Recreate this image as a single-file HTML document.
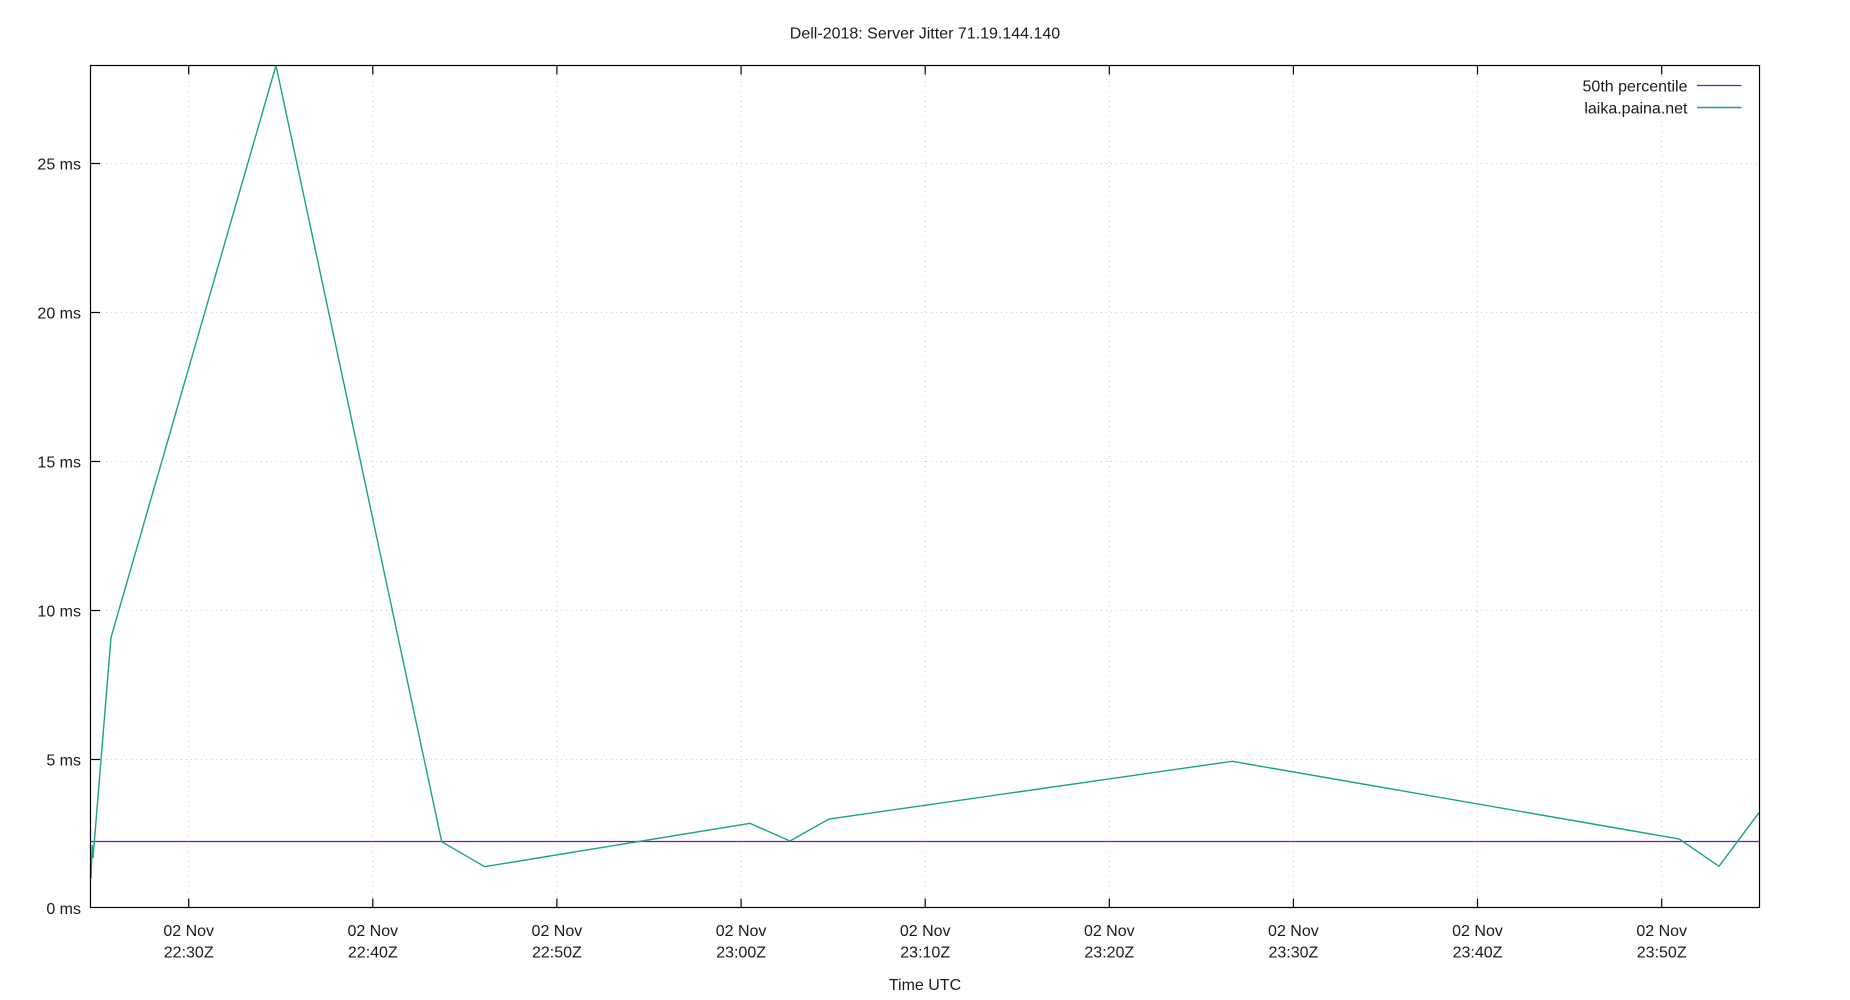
<!DOCTYPE html>
<html>
<head>
<meta charset="utf-8">
<style>
  html, body { margin: 0; padding: 0; background: #ffffff; }
  svg { display: block; }
  text { font-family: "Liberation Sans", "DejaVu Sans", sans-serif; font-size: 16px; fill: #1a1a1a; }
</style>
</head>
<body>
<svg width="1850" height="1000" viewBox="0 0 1850 1000" xmlns="http://www.w3.org/2000/svg">
  <rect x="0" y="0" width="1850" height="1000" fill="#ffffff"/>

  <!-- grid -->
  <g stroke="#cccccc" stroke-width="1" stroke-dasharray="1,4" fill="none">
    <line x1="91" y1="759.5" x2="1759" y2="759.5"/>
    <line x1="91" y1="610.5" x2="1759" y2="610.5"/>
    <line x1="91" y1="461.5" x2="1759" y2="461.5"/>
    <line x1="91" y1="312.5" x2="1759" y2="312.5"/>
    <line x1="91" y1="163.5" x2="1759" y2="163.5"/>
    <line x1="188.7" y1="66" x2="188.7" y2="907"/>
    <line x1="372.8" y1="66" x2="372.8" y2="907"/>
    <line x1="556.9" y1="66" x2="556.9" y2="907"/>
    <line x1="741.1" y1="66" x2="741.1" y2="907"/>
    <line x1="925.2" y1="66" x2="925.2" y2="907"/>
    <line x1="1109.3" y1="66" x2="1109.3" y2="907"/>
    <line x1="1293.4" y1="66" x2="1293.4" y2="907"/>
    <line x1="1477.5" y1="66" x2="1477.5" y2="907"/>
    <line x1="1661.7" y1="66" x2="1661.7" y2="907"/>
  </g>

  <!-- ticks -->
  <g stroke="#000" stroke-width="1.2" fill="none">
    <line x1="91" y1="759.5" x2="100" y2="759.5"/>
    <line x1="91" y1="610.5" x2="100" y2="610.5"/>
    <line x1="91" y1="461.5" x2="100" y2="461.5"/>
    <line x1="91" y1="312.5" x2="100" y2="312.5"/>
    <line x1="91" y1="163.5" x2="100" y2="163.5"/>
    <line x1="188.7" y1="907.5" x2="188.7" y2="898.5"/>
    <line x1="372.8" y1="907.5" x2="372.8" y2="898.5"/>
    <line x1="556.9" y1="907.5" x2="556.9" y2="898.5"/>
    <line x1="741.1" y1="907.5" x2="741.1" y2="898.5"/>
    <line x1="925.2" y1="907.5" x2="925.2" y2="898.5"/>
    <line x1="1109.3" y1="907.5" x2="1109.3" y2="898.5"/>
    <line x1="1293.4" y1="907.5" x2="1293.4" y2="898.5"/>
    <line x1="1477.5" y1="907.5" x2="1477.5" y2="898.5"/>
    <line x1="1661.7" y1="907.5" x2="1661.7" y2="898.5"/>
    <line x1="188.7" y1="65.5" x2="188.7" y2="74.5"/>
    <line x1="372.8" y1="65.5" x2="372.8" y2="74.5"/>
    <line x1="556.9" y1="65.5" x2="556.9" y2="74.5"/>
    <line x1="741.1" y1="65.5" x2="741.1" y2="74.5"/>
    <line x1="925.2" y1="65.5" x2="925.2" y2="74.5"/>
    <line x1="1109.3" y1="65.5" x2="1109.3" y2="74.5"/>
    <line x1="1293.4" y1="65.5" x2="1293.4" y2="74.5"/>
    <line x1="1477.5" y1="65.5" x2="1477.5" y2="74.5"/>
    <line x1="1661.7" y1="65.5" x2="1661.7" y2="74.5"/>
  </g>

  <!-- series: 50th percentile -->
  <line x1="91" y1="841.5" x2="1759" y2="841.5" stroke="#9400d3" stroke-width="1.3"/>

  <!-- series: laika.paina.net -->
  <polyline fill="none" stroke="#1aa37f" stroke-width="1.4" stroke-linejoin="miter"
    points="91,878 92.3,845 93,858 111,637.5 276,65.5 441.7,841.7 484.7,866.7 750,823.3 790,841 829,819 1232.3,761.3 1679.3,839 1719,866.3 1759,812.7"/>

  <!-- border -->
  <rect x="90.5" y="65.5" width="1669" height="842" fill="none" stroke="#000" stroke-width="1.2"/>

  <!-- y labels -->
  <g text-anchor="end">
    <text x="81" y="914">0 ms</text>
    <text x="81" y="765.5">5 ms</text>
    <text x="81" y="616.5">10 ms</text>
    <text x="81" y="467.5">15 ms</text>
    <text x="81" y="318.5">20 ms</text>
    <text x="81" y="169.5">25 ms</text>
  </g>

  <!-- x labels -->
  <g text-anchor="middle">
    <text x="188.7" y="936">02 Nov</text><text x="188.7" y="957.5">22:30Z</text>
    <text x="372.8" y="936">02 Nov</text><text x="372.8" y="957.5">22:40Z</text>
    <text x="556.9" y="936">02 Nov</text><text x="556.9" y="957.5">22:50Z</text>
    <text x="741.1" y="936">02 Nov</text><text x="741.1" y="957.5">23:00Z</text>
    <text x="925.2" y="936">02 Nov</text><text x="925.2" y="957.5">23:10Z</text>
    <text x="1109.3" y="936">02 Nov</text><text x="1109.3" y="957.5">23:20Z</text>
    <text x="1293.4" y="936">02 Nov</text><text x="1293.4" y="957.5">23:30Z</text>
    <text x="1477.5" y="936">02 Nov</text><text x="1477.5" y="957.5">23:40Z</text>
    <text x="1661.7" y="936">02 Nov</text><text x="1661.7" y="957.5">23:50Z</text>
    <text x="925" y="990">Time UTC</text>
    <text x="925" y="38.5">Dell-2018: Server Jitter 71.19.144.140</text>
  </g>

  <!-- legend -->
  <g text-anchor="end">
    <text x="1687.5" y="91.5">50th percentile</text>
    <text x="1687.5" y="113.5">laika.paina.net</text>
  </g>
  <line x1="1697" y1="85.5" x2="1741.5" y2="85.5" stroke="#9400d3" stroke-width="1.3"/>
  <line x1="1697" y1="107.5" x2="1741.5" y2="107.5" stroke="#1aa37f" stroke-width="1.4"/>
</svg>
</body>
</html>
